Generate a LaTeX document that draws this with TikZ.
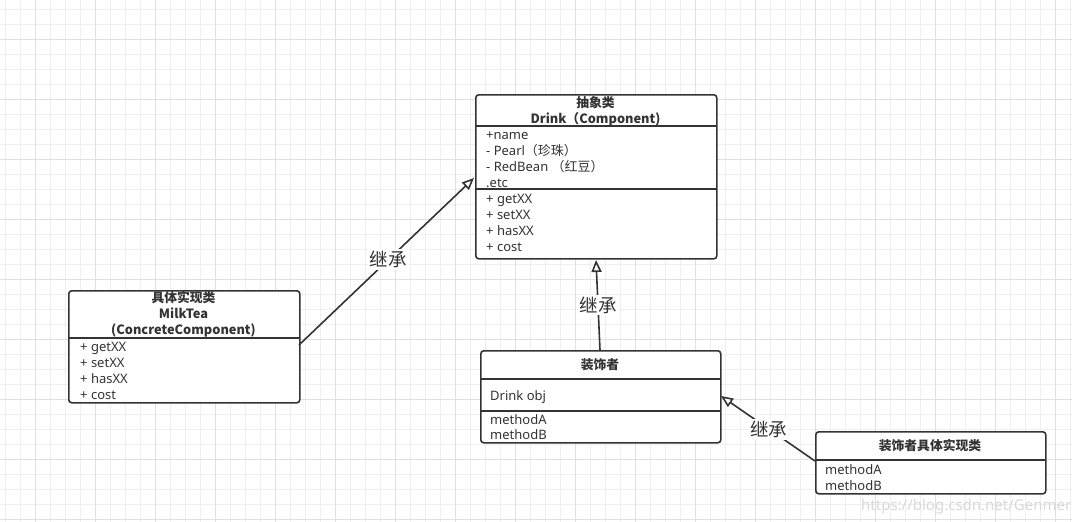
\documentclass[tikz,border=0pt]{standalone}
\usepackage{fontspec}
\setmainfont{Noto Sans}
\newfontfamily\cjk{Noto Sans CJK SC}
\usetikzlibrary{arrows.meta}
\definecolor{ink}{HTML}{333333}
\definecolor{gfine}{HTML}{EFEFEF}
\definecolor{gbold}{HTML}{E0E0E0}
\tikzset{
  umlbox/.style={draw=ink, line width=1.6pt, rounded corners=3pt, fill=white, inner sep=0pt, anchor=north west},
  sepline/.style={draw=ink, line width=1.6pt},
  txt/.style={font=\fontsize{13}{15}\selectfont, text=ink, inner sep=0pt, anchor=base west},
  ttl/.style={font=\fontsize{12.8}{14}\selectfont\cjk\bfseries, text=ink, inner sep=0pt, anchor=base},
  inh/.style={draw=ink, line width=1.6pt, -{Triangle[open, length=12pt, width=10pt, fill=white]}},
  lbl/.style={font=\fontsize{18.5}{20}\selectfont\cjk, text=ink, fill=white, inner sep=2pt},
}
\begin{document}
\begin{tikzpicture}[x=1pt,y=-1pt]
\useasboundingbox (0,0) rectangle (1072,522);
\fill[white] (0,0) rectangle (1072,522);
% grid
\foreach \x in {5,20,...,1072} \draw[gfine, line width=0.8pt] (\x,0) -- (\x,522);
\foreach \y in {9,24,...,522} \draw[gfine, line width=0.8pt] (0,\y) -- (1072,\y);
\foreach \x in {35,95,...,1072} \draw[gbold, line width=0.8pt] (\x,0) -- (\x,522);
\foreach \y in {39,99,...,522} \draw[gbold, line width=0.8pt] (0,\y) -- (1072,\y);

% Drink box
\node[umlbox, minimum width=241pt, minimum height=164pt] (drink) at (475,94) {};
\draw[sepline] (475,126) -- (716,126);
\draw[sepline] (475,189) -- (716,189);
\node[ttl] (dt1) at (595.5,107) {抽象类};
\node[ttl] (dt2) at (595.5,123) {Drink（Component)};
\node[txt] (da1) at (486,139) {+name};
\node[txt] (da2) at (486,155) {- Pearl{\cjk （珍珠）}};
\node[txt] (da3) at (486,171) {- RedBean {\cjk （红豆）}};
\node[txt] (da4) at (486,187) {.etc};
\node[txt] (dm1) at (486,203) {+ getXX};
\node[txt] (dm2) at (486,219) {+ setXX};
\node[txt] (dm3) at (486,235) {+ hasXX};
\node[txt] (dm4) at (486,251) {+ cost};

% MilkTea box
\node[umlbox, minimum width=231pt, minimum height=112pt] (milk) at (68,290) {};
\draw[sepline] (68,338) -- (299,338);
\node[ttl] (mt1) at (183.5,302.5) {具体实现类};
\node[ttl] (mt2) at (183.5,318.5) {MilkTea};
\node[ttl] (mt3) at (183.5,334) {(ConcreteComponent)};
\node[txt] (mm1) at (80,351) {+ getXX};
\node[txt] (mm2) at (80,367) {+ setXX};
\node[txt] (mm3) at (80,383) {+ hasXX};
\node[txt] (mm4) at (80,399) {+ cost};

% Decorator box
\node[umlbox, minimum width=240pt, minimum height=92pt] (deco) at (480,350) {};
\draw[sepline] (480,379) -- (720,379);
\draw[sepline] (480,411) -- (720,411);
\node[ttl] (dct) at (600,369.5) {装饰者};
\node[txt] (dca) at (490,400) {Drink obj};
\node[txt] (dcm1) at (490,424) {methodA};
\node[txt] (dcm2) at (490,439) {methodB};

% Concrete decorator box
\node[umlbox, minimum width=230pt, minimum height=62pt] (cdeco) at (815,431) {};
\draw[sepline] (815,460) -- (1045,460);
\node[ttl] (cdt) at (930,450.5) {装饰者具体实现类};
\node[txt] (cdm1) at (825,474) {methodA};
\node[txt] (cdm2) at (825,490) {methodB};

% connector end points
\coordinate (p1s) at (299,345);
\coordinate (p1e) at (474,178);
\coordinate (p2s) at (600,350);
\coordinate (p2e) at (596,260);
\coordinate (p3s) at (815,461);
\coordinate (p3e) at (721,396);

\draw[inh] (p1s) -- (p1e) node[lbl, pos=0.51] (l1) {继承};
\draw[inh] (p2s) -- (p2e) node[lbl, pos=0.5] (l2) {继承};
\draw[inh] (p3s) -- (p3e) node[lbl, pos=0.49] (l3) {继承};

% watermark
\node[font=\fontsize{15}{17}\selectfont, text=black!15, inner sep=0pt, anchor=base west] (wm) at (861,510) {https://blog.csdn.net/Genmer};
\end{tikzpicture}
\end{document}
